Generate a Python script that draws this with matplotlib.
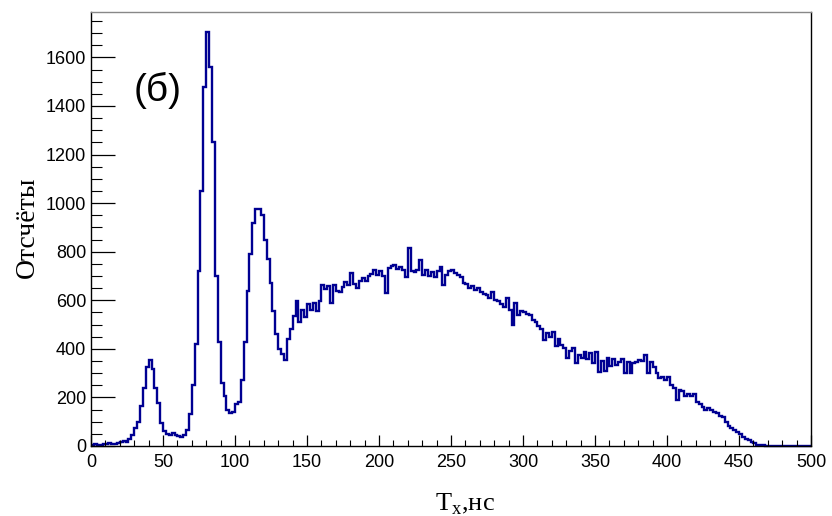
import matplotlib
matplotlib.use("Agg")
import matplotlib.pyplot as plt
from matplotlib.ticker import MultipleLocator
import numpy as np

# histogram: 2 ns bins from 0 to 500 ns
bin_width = 2
t_min, t_max = 0, 500
counts = [
    5, 8, 4, 6, 10, 7, 12, 9, 8, 13,                 # 0-20
    15, 22, 18, 27, 45, 75, 100, 165, 240, 325,      # 20-40
    355, 315, 240, 175, 95, 62, 50, 45, 52, 44,      # 40-60
    40, 37, 45, 65, 130, 250, 420, 720, 1050, 1480,  # 60-80
    1703, 1560, 1250, 700, 430, 260, 205, 150, 135, 138,  # 80-100
    172, 182, 270, 430, 640, 790, 920, 975, 975, 950,     # 100-120
    850, 770, 670, 555, 460, 400, 380, 352, 440, 480,     # 120-140
    535, 595, 510, 560, 530, 585, 560, 590, 555, 595,     # 140-160
    664, 645, 660, 590, 664, 640, 632, 655, 675, 662,     # 160-180
    712, 668, 650, 678, 690, 680, 698, 710, 726, 705,     # 180-200
    722, 700, 630, 733, 740, 746, 730, 735, 725, 695,     # 200-220
    815, 720, 715, 725, 767, 705, 725, 700, 715, 695,     # 220-240
    720, 735, 664, 705, 720, 725, 712, 705, 695, 672,     # 240-260
    665, 650, 660, 643, 650, 632, 625, 620, 608, 636,     # 260-280
    600, 595, 585, 572, 609, 560, 499, 588, 540, 555,     # 280-300
    550, 545, 540, 520, 512, 492, 480, 437, 466, 448,     # 300-320
    470, 410, 440, 415, 405, 361, 390, 405, 341, 375,     # 320-340
    362, 389, 358, 382, 341, 389, 306, 350, 310, 361,     # 340-360
    328, 360, 334, 345, 360, 300, 345, 300, 340, 345,     # 360-380
    354, 350, 375, 300, 345, 325, 300, 280, 286, 272,     # 380-400
    286, 250, 238, 190, 231, 228, 205, 212, 205, 213,     # 400-420
    180, 172, 160, 148, 155, 148, 140, 135, 125, 118,     # 420-440
    100, 82, 74, 66, 59, 48, 38, 30, 24, 16,              # 440-460
    11, 6, 4, 2, 1, 0, 0, 0, 0, 0,                        # 460-480
    0, 0, 0, 0, 0, 0, 0, 0, 0, 0,                         # 480-500
]
edges = np.arange(t_min, t_max + bin_width, bin_width)

fig = plt.figure(figsize=(8.32, 5.16), dpi=100)
ax = fig.add_axes([0.1094, 0.1357, 0.8654, 0.8411])

ax.stairs(counts, edges, color="#000092", lw=1.7, baseline=None, clip_on=False)

ax.set_xlim(t_min, t_max)
ax.set_ylim(0, 1787)

# ROOT-like ticks: inside, only on left and bottom
ax.xaxis.set_major_locator(MultipleLocator(50))
ax.xaxis.set_minor_locator(MultipleLocator(10))
ax.yaxis.set_major_locator(MultipleLocator(200))
ax.yaxis.set_minor_locator(MultipleLocator(50))
ax.tick_params(axis="y", which="major", direction="in", length=17, width=0.9,
               pad=3.5, labelsize=13, right=False)
ax.tick_params(axis="y", which="minor", direction="in", length=8, width=0.8, right=False)
ax.tick_params(axis="x", which="major", direction="in", length=8, width=0.9,
               pad=6, labelsize=13, top=False)
ax.tick_params(axis="x", which="minor", direction="in", length=4, width=0.8, top=False)
for lab in ax.get_xticklabels() + ax.get_yticklabels():
    lab.set_fontfamily("Liberation Sans")

for side in ["left", "bottom", "right"]:
    ax.spines[side].set_linewidth(1.0)
    ax.spines[side].set_color("black")
ax.spines["top"].set_linewidth(1.0)
ax.spines["top"].set_color("#888888")

ax.set_ylabel("Отсчёты", fontsize=20, family="Liberation Serif")
ax.yaxis.set_label_coords(-0.071, 0.505)
ax.set_xlabel(r"T$_\mathregular{x}$,нс", fontsize=19, family="Liberation Serif")
ax.xaxis.set_label_coords(0.52, -0.105)

ax.text(0.093, 0.818, "(б)", transform=ax.transAxes, fontsize=28,
        family="Liberation Sans", ha="center", va="center")

fig.savefig("out.png", dpi=100)
